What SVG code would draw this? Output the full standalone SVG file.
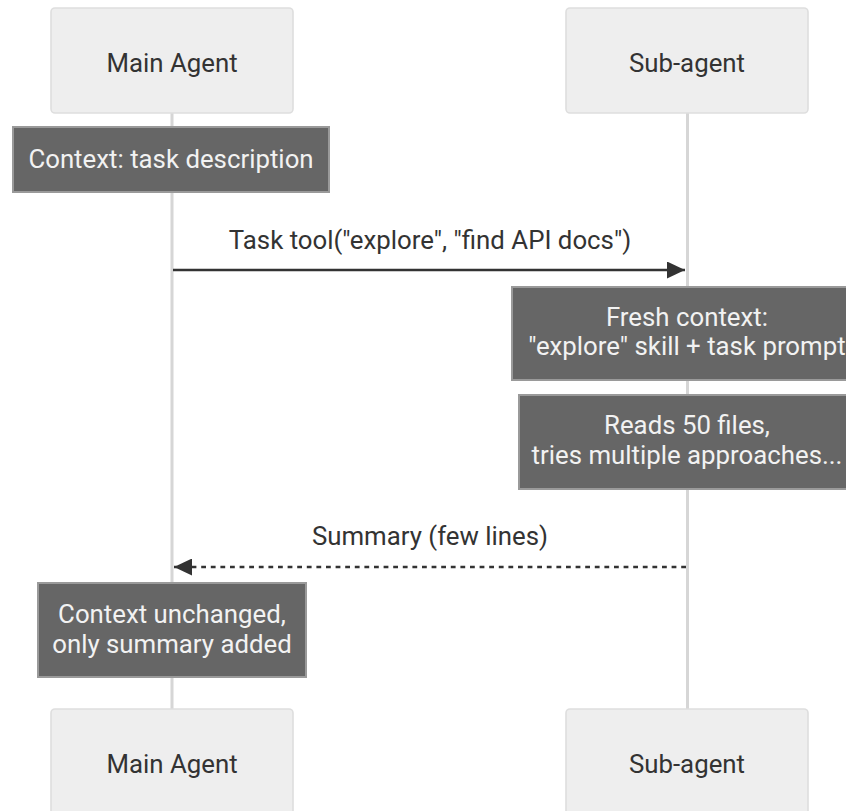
<svg xmlns="http://www.w3.org/2000/svg" width="846" height="811" viewBox="0 0 846 811">
  <style>
    text { font-family: Roboto, "Liberation Sans", sans-serif; font-size: 25.8px; text-anchor: middle; }
    .actor rect { fill: #eeeeee; stroke: #dedede; stroke-width: 1.6; }
    .actor text { fill: #333333; }
    .note rect { fill: #666666; stroke: #9a9a9a; stroke-width: 2; }
    .note text { fill: #f2f2f2; }
    .lifeline { stroke: #d6d6d6; stroke-width: 3; fill: none; }
    .msg { stroke: #333333; stroke-width: 2.6; fill: none; }
    .dashed { stroke-dasharray: 4.8 4.8; }
    .msg-label { fill: #333333; }
  </style>
  <defs>
    <marker id="arrowhead" markerWidth="18" markerHeight="17" refX="18" refY="8.5" orient="auto" markerUnits="userSpaceOnUse">
      <path d="M0,0 L18,8.5 L0,17 z" fill="#333333"/>
    </marker>
  </defs>

  <!-- lifelines -->
  <g id="lifelines">
    <line class="lifeline" x1="172" y1="113" x2="172" y2="709"/>
    <line class="lifeline" x1="687.5" y1="113" x2="687.5" y2="709"/>
  </g>

  <!-- participants, top -->
  <g id="main-agent-top" class="actor">
    <rect x="51" y="8" width="242" height="105" rx="4"/>
    <text x="172" y="72">Main Agent</text>
  </g>
  <g id="sub-agent-top" class="actor">
    <rect x="566" y="8" width="242" height="105" rx="4"/>
    <text x="687" y="72">Sub-agent</text>
  </g>

  <!-- participants, bottom -->
  <g id="main-agent-bottom" class="actor">
    <rect x="51" y="709" width="242" height="110" rx="4"/>
    <text x="172" y="773">Main Agent</text>
  </g>
  <g id="sub-agent-bottom" class="actor">
    <rect x="566" y="709" width="242" height="110" rx="4"/>
    <text x="687" y="773">Sub-agent</text>
  </g>

  <!-- notes -->
  <g id="note-context" class="note">
    <rect x="13" y="127" width="316" height="65"/>
    <text x="171" y="168">Context: task description</text>
  </g>
  <g id="note-fresh" class="note">
    <rect x="512" y="287" width="352" height="93"/>
    <text x="687" y="326">Fresh context:</text>
    <text x="687" y="355">"explore" skill + task prompt</text>
  </g>
  <g id="note-reads" class="note">
    <rect x="519" y="395" width="338" height="94"/>
    <text x="687" y="434">Reads 50 files,</text>
    <text x="687" y="464">tries multiple approaches...</text>
  </g>
  <g id="note-unchanged" class="note">
    <rect x="38" y="583" width="268" height="94"/>
    <text x="172" y="623">Context unchanged,</text>
    <text x="172" y="653">only summary added</text>
  </g>

  <!-- messages -->
  <g id="connectors">
    <line class="msg" x1="173" y1="270" x2="685" y2="270" marker-end="url(#arrowhead)"/>
    <text class="msg-label" x="430" y="249">Task tool("explore", "find API docs")</text>
    <line class="msg dashed" x1="686" y1="567" x2="174" y2="567" marker-end="url(#arrowhead)"/>
    <text class="msg-label" x="430" y="545">Summary (few lines)</text>
  </g>
</svg>
